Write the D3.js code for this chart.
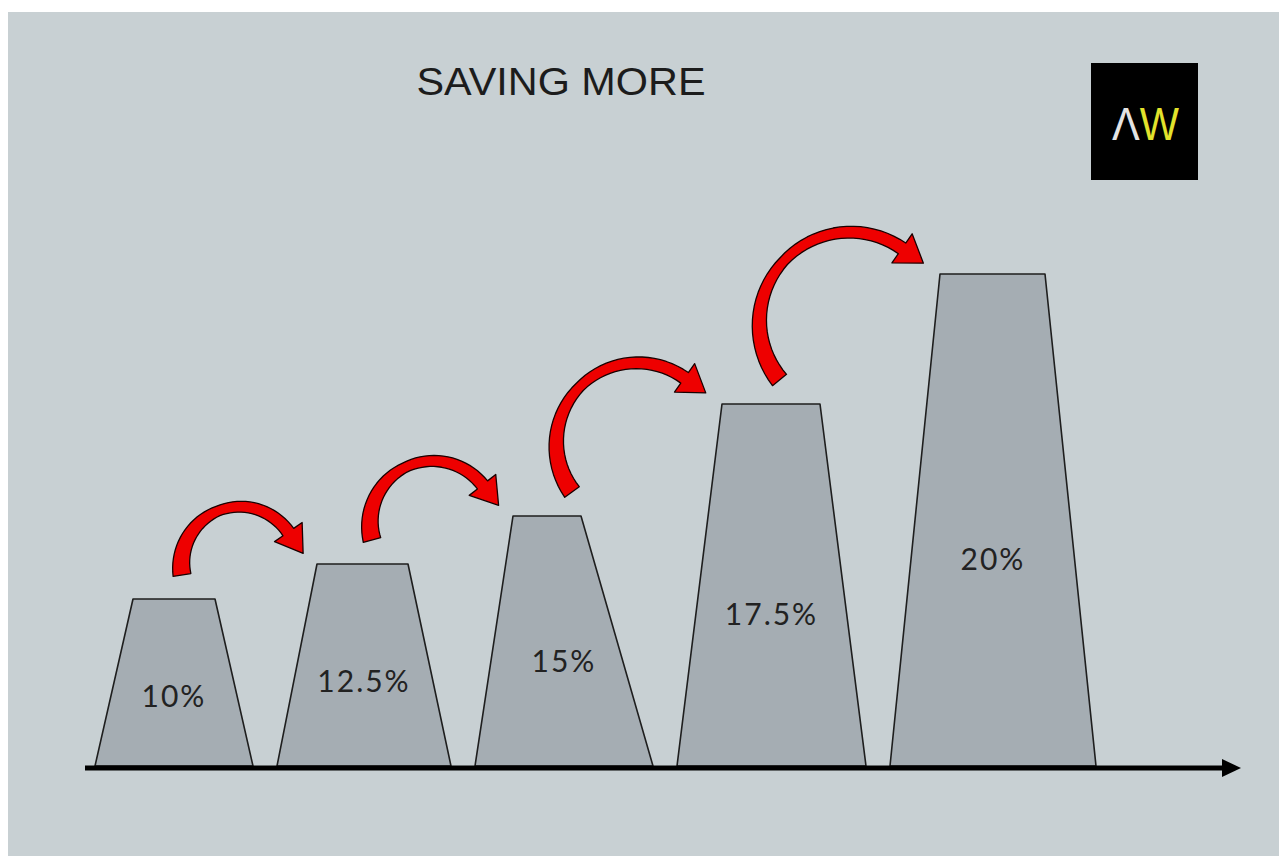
<!DOCTYPE html>
<html>
<head>
<meta charset="utf-8">
<script src="https://cdn.jsdelivr.net/npm/d3@7"></script>
<style>
  body { margin: 0; background: #fff; }
  svg { display: block; }
</style>
</head>
<body>
<svg id="chart" width="1279" height="856"></svg>
<script>
// data
const title = "SAVING MORE";
const rates = [10, 12.5, 15, 17.5, 20];
const labels = ["10%", "12.5%", "15%", "17.5%", "20%"];

// layout
const baseY = 766;
const firstX = 95;
const gap = 24;
const stepWidth = [158, 174, 178, 189, 206];
const stepHeight = [167, 202, 250, 362, 492]; // drawn heights, not proportional in the original
const taper = [[38, 38], [40, 43], [38, 72], [45, 46], [50, 51]]; // top insets left/right

const svg = d3.select("#chart");

svg.append("rect")
  .attr("x", 8).attr("y", 12)
  .attr("width", 1271).attr("height", 844)
  .attr("fill", "#c8d0d3");

const widthScale = d3.scaleLinear().domain(rates).range(stepWidth);
const heightScale = d3.scaleLinear().domain(rates).range(stepHeight);

let cursor = firstX;
const bars = rates.map(function (v, i) {
  const b = { value: v, label: labels[i] };
  b.x0 = cursor;
  b.x1 = cursor + widthScale(v);
  b.top = baseY - heightScale(v);
  b.tl = b.x0 + taper[i][0];
  b.tr = b.x1 - taper[i][1];
  cursor = b.x1 + gap;
  return b;
});

// title
svg.append("text")
  .attr("x", 561).attr("y", 95)
  .attr("text-anchor", "middle")
  .attr("font-family", "Liberation Sans, Arial, sans-serif")
  .attr("font-size", 39)
  .attr("textLength", 289)
  .attr("lengthAdjust", "spacingAndGlyphs")
  .attr("fill", "#1c1c1c")
  .text(title);

// logo
const logo = svg.append("g");
logo.append("rect")
  .attr("x", 1091).attr("y", 63)
  .attr("width", 107).attr("height", 117)
  .attr("fill", "#000");
const logoText = logo.append("text")
  .attr("x", 1112).attr("y", 140)
  .attr("font-family", "Liberation Sans, Arial, sans-serif")
  .attr("font-size", 46)
  .attr("textLength", 67)
  .attr("lengthAdjust", "spacingAndGlyphs");
logoText.append("tspan").attr("fill", "#e4e4e4").text("Λ");
logoText.append("tspan").attr("fill", "#e3e32c").text("W");

// trapezoid steps
svg.selectAll("path.step")
  .data(bars)
  .join("path")
  .attr("class", "step")
  .attr("d", d => `M${d.x0},${baseY}L${d.tl},${d.top}L${d.tr},${d.top}L${d.x1},${baseY}Z`)
  .attr("fill", "#a5adb3")
  .attr("stroke", "#1e1e1e")
  .attr("stroke-width", 1.6)
  .attr("stroke-linejoin", "round");

svg.selectAll("text.label")
  .data(bars)
  .join("text")
  .attr("class", "label")
  .attr("x", d => (d.x0 + d.x1) / 2)
  .attr("y", d => d.top + 0.58 * (baseY - d.top))
  .attr("dy", "0.36em")
  .attr("text-anchor", "middle")
  .attr("font-family", "Lato, sans-serif")
  .attr("font-size", 30)
  .attr("letter-spacing", 2)
  .attr("fill", "#222")
  .text(d => d.label);

// axis with arrow
svg.append("line")
  .attr("x1", 85).attr("x2", 1226)
  .attr("y1", 768).attr("y2", 768)
  .attr("stroke", "#000")
  .attr("stroke-width", 5);
svg.append("path")
  .attr("d", "M1222,759L1241,768L1222,777Z")
  .attr("fill", "#000");

// curved red arrows from one step to the next
const shaftWidth = d3.scaleLinear().domain([0, 0.5, 1]).range([18, 10, 13]);
const line = d3.line();

function arrowPath(T, P) {
  const cx = (T[0] + P[0]) / 2, cy = (T[1] + P[1]) / 2;
  const r = Math.hypot(P[0] - T[0], P[1] - T[1]) / 2;
  const a0 = Math.atan2(T[1] - cy, T[0] - cx);
  let a1 = Math.atan2(P[1] - cy, P[0] - cx);
  while (a1 < a0) a1 += 2 * Math.PI;
  const headLen = 26;
  const headHalf = 15 + r * 0.03;
  const aB = a1 - headLen / r;
  const n = 40;
  const outer = [], inner = [];
  for (let k = 0; k <= n; k++) {
    const t = k / n;
    const a = a0 + (aB - a0) * t;
    const hw = shaftWidth(t) / 2;
    outer.push([cx + (r + hw) * Math.cos(a), cy + (r + hw) * Math.sin(a)]);
    inner.push([cx + (r - hw) * Math.cos(a), cy + (r - hw) * Math.sin(a)]);
  }
  const bx = cx + r * Math.cos(aB), by = cy + r * Math.sin(aB);
  const ux = Math.cos(aB), uy = Math.sin(aB); // radial
  const tx = -Math.sin(aB), ty = Math.cos(aB); // tangent, direction of travel
  const headOuter = [bx + ux * headHalf, by + uy * headHalf];
  const headInner = [bx - ux * headHalf, by - uy * headHalf];
  const tip = [bx + tx * headLen, by + ty * headLen];
  const pts = outer.concat([headOuter, tip, headInner], inner.reverse());
  return line(pts) + "Z";
}

const arrows = d3.pairs(bars).map(function ([a, b]) {
  const T = [(a.x0 + a.x1) / 2 + 8, a.top - 24];
  const P = [b.tl - 19, b.top - 8];
  return arrowPath(T, P);
});

svg.selectAll("path.jump")
  .data(arrows)
  .join("path")
  .attr("class", "jump")
  .attr("d", d => d)
  .attr("fill", "#ee0000")
  .attr("stroke", "#1a0000")
  .attr("stroke-width", 1.3)
  .attr("stroke-linejoin", "round");
</script>
</body>
</html>
